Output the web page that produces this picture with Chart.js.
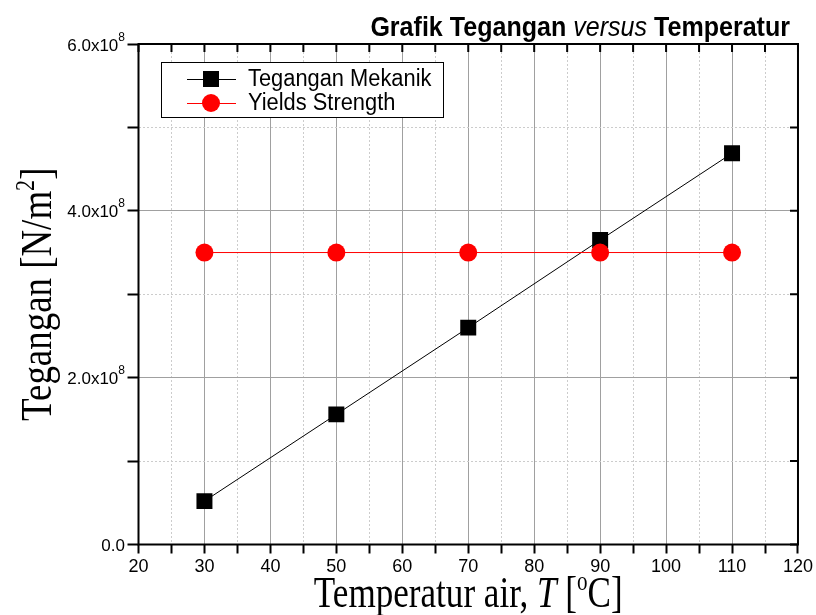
<!DOCTYPE html>
<html>
<head>
<meta charset="utf-8">
<script src="https://cdn.jsdelivr.net/npm/chart.js@4.4.1/dist/chart.umd.min.js"></script>
<style>
  html, body { margin: 0; padding: 0; background: #fff; }
  canvas { display: block; }
</style>
</head>
<body>
<canvas id="c" width="816" height="615"></canvas>
<script>
// ---- data ----
const temperatures = [30, 50, 70, 90, 110];
const teganganMekanik = [5.2e7, 1.56e8, 2.6e8, 3.65e8, 4.69e8];
const yieldStrength = [3.5e8, 3.5e8, 3.5e8, 3.5e8, 3.5e8];
const seriesLabels = ['Tegangan Mekanik', 'Yields Strength'];
const xTickLabels = ['20','30','40','50','60','70','80','90','100','110','120'];
const yTickLabels = { 0: ['0.0', ''], 200000000: ['2.0x10', '8'], 400000000: ['4.0x10', '8'], 600000000: ['6.0x10', '8'] };
const chartTitle = [['Grafik Tegangan ', 'b'], ['versus', 'i'], [' Temperatur', 'b']];
const xTitle = [['Temperatur air, ', 'n'], ['T', 'i'], [' [', 'n'], ['o', 's'], ['C]', 'n']];
const yTitle = [['Tegangan [N/m', 'n'], ['2', 's'], [']', 'n']];

const SANS = "'Liberation Sans', Arial, sans-serif";
const SERIF = "'Liberation Serif', 'Times New Roman', serif";

function pts(ys) { return temperatures.map((t, i) => ({ x: t, y: ys[i] })); }

function drawRich(ctx, segs, fontFor, x, y, align, sx, rotate, baseline) {
  ctx.save();
  let total = 0;
  const widths = segs.map(s => { ctx.font = fontFor(s[1]).font; const w = ctx.measureText(s[0]).width; total += w; return w; });
  ctx.translate(x, y);
  if (rotate) ctx.rotate(-Math.PI / 2);
  ctx.scale(sx, 1);
  let cx = align === 'right' ? -total : (align === 'center' ? -total / 2 : 0);
  ctx.textBaseline = baseline || 'alphabetic';
  ctx.textAlign = 'left';
  ctx.fillStyle = '#000';
  segs.forEach((s, i) => {
    const f = fontFor(s[1]);
    ctx.font = f.font;
    ctx.fillText(s[0], cx, f.dy || 0);
    cx += widths[i];
  });
  ctx.restore();
}

const overlay = {
  id: 'overlay',
  afterDraw(chart) {
    const { ctx, chartArea: a, scales } = chart;
    const x = scales.x, y = scales.y;
    ctx.save();
    ctx.strokeStyle = '#000';
    ctx.lineWidth = 2;
    // inward ticks on top and right
    ctx.beginPath();
    x.ticks.forEach(t => { const px = x.getPixelForValue(t.value); ctx.moveTo(px, a.top); ctx.lineTo(px, a.top + 8); });
    y.ticks.forEach(t => { const py = y.getPixelForValue(t.value); ctx.moveTo(a.right, py); ctx.lineTo(a.right - 8, py); });
    ctx.stroke();
    // frame
    ctx.strokeRect(a.left, a.top, a.right - a.left, a.bottom - a.top);
    ctx.restore();

    // y tick labels with superscript exponent
    const supFont = k => k === 's' ? { font: '12px ' + SANS, dy: -10 } : { font: '17px ' + SANS };
    y.ticks.forEach(t => {
      const lab = yTickLabels[t.value];
      if (!lab) return;
      const segs = [[lab[0], 'n']];
      if (lab[1]) segs.push([lab[1], 's']);
      drawRich(ctx, segs, supFont, 125, y.getPixelForValue(t.value) + 6.5, 'right', 1, false);
    });

    // legend
    ctx.save();
    const bx = 161, by = 62, bw = 282, bh = 55;
    ctx.fillStyle = '#fff';
    ctx.fillRect(bx, by, bw, bh);
    ctx.strokeStyle = '#000';
    ctx.lineWidth = 1;
    ctx.strokeRect(bx + 0.5, by + 0.5, bw, bh);
    const rows = [79, 103];
    chart.data.datasets.forEach((ds, i) => {
      const ry = rows[i];
      ctx.strokeStyle = ds.borderColor;
      ctx.lineWidth = 1;
      ctx.beginPath(); ctx.moveTo(187, ry + 0.5); ctx.lineTo(236, ry + 0.5); ctx.stroke();
      ctx.fillStyle = ds.backgroundColor;
      if (ds.pointStyle === 'rect') {
        ctx.fillRect(211 - 8, ry - 8, 16, 16);
      } else {
        ctx.beginPath(); ctx.arc(211, ry, 9, 0, Math.PI * 2); ctx.fill();
      }
      ctx.save();
      ctx.translate(248, ry + 1);
      ctx.scale(0.95, 1);
      ctx.fillStyle = '#000';
      ctx.font = '23px ' + SANS;
      ctx.textBaseline = 'middle';
      ctx.fillText(ds.label, 0, 0);
      ctx.restore();
    });
    ctx.restore();

    // chart title
    drawRich(ctx, chartTitle, k => ({ font: (k === 'b' ? 'bold ' : 'italic ') + '28px ' + SANS }), 790, 36, 'right', 0.895, false);
    // x title
    const serifFont = k => k === 's' ? { font: '27px ' + SERIF, dy: -17 } : { font: (k === 'i' ? 'italic ' : '') + '45px ' + SERIF };
    drawRich(ctx, xTitle, serifFont, (a.left + a.right) / 2, 607, 'center', 0.78, false);
    // y title
    drawRich(ctx, yTitle, serifFont, 51, (a.top + a.bottom) / 2, 'center', 0.82, true);
  }
};

new Chart(document.getElementById('c'), {
  type: 'line',
  data: {
    datasets: [
      {
        label: seriesLabels[0],
        data: pts(teganganMekanik),
        borderColor: '#000000',
        backgroundColor: '#000000',
        borderWidth: 1,
        pointStyle: 'rect',
        pointRadius: 11.3,
        pointBorderWidth: 0,
        pointHoverRadius: 11.3,
        order: 1
      },
      {
        label: seriesLabels[1],
        data: pts(yieldStrength),
        borderColor: '#ff0000',
        backgroundColor: '#ff0000',
        borderWidth: 1,
        pointStyle: 'circle',
        pointRadius: 9,
        pointBorderWidth: 0,
        pointHoverRadius: 9,
        order: 0
      }
    ]
  },
  options: {
    responsive: false,
    animation: false,
    devicePixelRatio: 1,
    layout: { padding: { left: 0, top: 44, right: 17.5, bottom: 0 } },
    plugins: { legend: { display: false }, title: { display: false }, tooltip: { enabled: false } },
    scales: {
      x: {
        type: 'linear',
        min: 20, max: 120,
        afterFit(s) { s.height = 70.5; },
        ticks: {
          stepSize: 5,
          autoSkip: false,
          maxRotation: 0,
          padding: 3,
          color: '#000',
          font: { family: SANS, size: 18 },
          callback: v => (v % 10 === 0 ? xTickLabels[(v - 20) / 10] : '')
        },
        grid: {
          color: c => (c.tick && c.tick.value % 10 === 0 ? '#a0a0a0' : '#cccccc'),
          lineWidth: 1,
          tickColor: '#000',
          tickLength: 9,
          tickWidth: 2
        },
        border: {
          display: false,
          dash: c => (c.tick && c.tick.value % 10 === 0 ? [] : [2, 2])
        }
      },
      y: {
        type: 'linear',
        min: 0, max: 6e8,
        afterFit(s) { s.width = 138.5; },
        ticks: {
          stepSize: 1e8,
          autoSkip: false,
          padding: 4,
          color: 'rgba(0,0,0,0)',
          font: { family: SANS, size: 17 },
          callback: v => (yTickLabels[v] !== undefined ? yTickLabels[v].join('') : '')
        },
        grid: {
          color: c => (c.tick && c.tick.value % 2e8 === 0 ? '#a0a0a0' : '#cccccc'),
          lineWidth: 1,
          tickColor: '#000',
          tickLength: 11,
          tickWidth: 2
        },
        border: {
          display: false,
          dash: c => (c.tick && c.tick.value % 2e8 === 0 ? [] : [2, 2])
        }
      }
    }
  },
  plugins: [overlay]
});
</script>
</body>
</html>
